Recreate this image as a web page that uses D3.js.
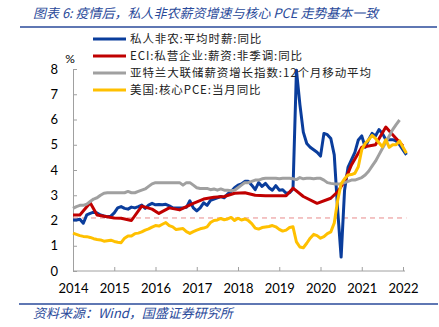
<!DOCTYPE html>
<html>
<head>
<meta charset="utf-8">
<script src="https://cdn.jsdelivr.net/npm/d3@7"></script>
<style>
  body { margin: 0; background: #fff; }
  svg { display: block; }
  .axis text { font-family: Lato, "Liberation Sans", sans-serif; font-size: 13px; fill: #000; }
  .axis path, .axis line { stroke: #a0a0a0; }
</style>
</head>
<body>
<div id="chart"></div>
<script>
// years on the x axis (month index 0 = 2014-01)
const years = ["2014", "2015", "2016", "2017", "2018", "2019", "2020", "2021", "2022"];
const yTicks = [0, 1, 2, 3, 4, 5, 6, 7, 8];

// 私人非农:平均时薪:同比 (monthly from month 0)
const blueValues = [2.02, 2.02, 2.05, 1.89, 2.22, 2.28, 2.33, 2.3, 2.22, 2.18, 2.15, 2.17,
  2.3, 2.5, 2.55, 2.48, 2.45, 2.53, 2.5, 2.55, 2.61, 2.48, 2.61, 2.68,
  2.62, 2.63, 2.62, 2.64, 2.58, 2.5, 2.5, 2.5, 2.5, 2.52, 2.78, 2.5,
  2.38, 2.5, 2.7, 2.6, 2.8, 2.85, 2.9, 2.95, 2.9, 3.05, 3.15, 3.3,
  3.4, 3.45, 3.55, 3.55, 3.4, 3.22, 3.5, 3.35, 3.47, 3.3, 3.2, 3.38,
  3.2, 3.22, 3.08, 3.1, 3.25, 7.95, 6.6, 5.5, 5.05, 4.9, 4.8, 4.7,
  4.55, 5.45, 5.4, 5.25, 4.6, 2.4, 0.55, 3.2, 4.1, 4.4, 4.7, 5.19,
  5.35, 4.9, 5.2, 5.45, 5.35, 5.6, 5.45, 5.2, 5.2, 5.2, 5.15, 5.0,
  4.8, 4.6];

// ECI:私营企业:薪资:非季调:同比 (month index, value)
const redMonths = [0, 2, 5, 7, 12, 14, 17, 20, 23, 25, 28, 31, 35, 38, 41, 44, 47, 50, 53, 56,
  59, 62, 64, 67, 71, 75, 77, 79, 81, 84, 88, 91, 93, 95, 96];
const redValues = [2.22, 2.22, 2.7, 2.22, 2.1, 2.09, 2.0, 2.57, 2.45, 2.28, 2.5, 2.42, 2.68, 2.85,
  2.92, 2.95, 3.08, 3.1, 3.0, 2.98, 2.98, 2.98, 3.28, 2.95, 2.68, 2.88, 3.14, 3.55, 4.2, 4.9,
  5.0, 5.7, 5.4, 5.1, 4.95];

// 亚特兰大联储薪资增长指数:12个月移动平均 (monthly from month 0)
const grayValues = [2.48, 2.55, 2.6, 2.6, 2.65, 2.75, 2.85, 2.9, 3.0, 3.08, 3.1, 3.1,
  3.1, 3.1, 3.1, 3.1, 3.15, 3.1, 3.1, 3.15, 3.2, 3.25, 3.35, 3.45,
  3.5, 3.5, 3.5, 3.5, 3.5, 3.5, 3.5, 3.5, 3.4, 3.5, 3.5, 3.4,
  3.3, 3.27, 3.27, 3.27, 3.22, 3.25, 3.2, 3.25, 3.2, 3.2, 3.18, 3.2,
  3.3, 3.4, 3.5, 3.5, 3.55, 3.6, 3.6, 3.65, 3.67, 3.67, 3.67, 3.67,
  3.65, 3.67, 3.67, 3.67, 3.65, 3.62, 3.7, 3.65, 3.67, 3.67, 3.65, 3.67,
  3.67, 3.6, 3.5, 3.47, 3.45, 3.45, 3.45, 3.5, 3.55, 3.6, 3.6, 3.65,
  3.7, 3.8, 3.95, 4.15, 4.35, 4.6, 4.85, 5.1, 5.35, 5.6, 5.8, 5.98];

// 美国:核心PCE:当月同比 (monthly from month 0)
const yellowValues = [1.5, 1.45, 1.4, 1.37, 1.36, 1.33, 1.28, 1.25, 1.23, 1.18, 1.2, 1.22,
  1.17, 1.14, 1.12, 1.3, 1.39, 1.39, 1.48, 1.5, 1.55, 1.62, 1.67, 1.74,
  1.8, 1.78, 1.85, 1.92, 1.8, 1.75, 1.64, 1.66, 1.68, 1.56, 1.49, 1.56,
  1.62, 1.67, 1.7, 1.75, 1.92, 2.0, 2.02, 2.08, 2.03, 2.06, 2.12, 2.0,
  2.09, 2.02, 2.06, 2.0, 1.88, 1.7, 1.66, 1.72, 1.74, 1.76, 1.8, 1.75,
  1.65, 1.58, 1.62, 1.72, 1.75, 1.15, 0.95, 0.92, 1.1, 1.3, 1.45, 1.4,
  1.3, 1.36, 1.48, 1.55, 1.9, 2.8, 3.45, 3.65, 3.8, 3.82, 3.87, 4.13,
  4.8, 5.05, 5.2, 5.37, 5.25, 5.08, 4.92, 5.2, 4.9, 5.0, 5.0, 5.15,
  4.9, 4.66];

const refLine = 2.1;

const legendNames = ["私人非农:平均时薪:同比", "ECI:私营企业:薪资:非季调:同比",
  "亚特兰大联储薪资增长指数:12个月移动平均", "美国:核心PCE:当月同比"];
const colors = ["#0a3d9c", "#c00000", "#a0a0a0", "#ffc000"];

const width = 439, height = 327;
const svg = d3.select("#chart").append("svg")
    .attr("width", width).attr("height", height);

let x = d3.scaleLinear().domain([0, 96]).range([73, 403]);
let y = d3.scaleLinear().domain([0, 8]).range([271, 69]);

// title (slanted like the reference)
svg.append("text")
    .attr("transform", "translate(33,18) skewX(-14)")
    .attr("font-family", "'Noto Sans CJK SC', sans-serif")
    .attr("font-size", 13)
    .attr("fill", "#2a4a9a")
    .text("图表 6:  疫情后，私人非农薪资增速与核心 PCE 走势基本一致");
svg.append("line").attr("x1", 20).attr("x2", 437).attr("y1", 27).attr("y2", 27)
    .attr("stroke", "#2a4a9a").attr("stroke-width", 1.5);

// source
svg.append("line").attr("x1", 19).attr("x2", 438).attr("y1", 304).attr("y2", 304)
    .attr("stroke", "#2a4a9a").attr("stroke-width", 1.5);
svg.append("text")
    .attr("transform", "translate(33,318) skewX(-14)")
    .attr("font-family", "'Noto Sans CJK SC', sans-serif")
    .attr("font-size", 13)
    .attr("fill", "#2a4a9a")
    .text("资料来源：Wind，国盛证券研究所");

// axes
svg.append("g").attr("class", "axis")
    .attr("transform", "translate(0,271)")
    .call(d3.axisBottom(x).tickValues(years.map((d, i) => i * 12))
        .tickFormat((d, i) => years[i]).tickSizeInner(-4).tickSizeOuter(0).tickPadding(13));
svg.select(".axis .domain").attr("d", "M73,0H405");

svg.append("g").attr("class", "axis")
    .attr("transform", "translate(73,0)")
    .call(d3.axisLeft(y).tickValues(yTicks).tickFormat(d3.format("d"))
        .tickSizeInner(-4).tickSizeOuter(0).tickPadding(15));

svg.append("text").attr("x", 70).attr("y", 63)
    .attr("text-anchor", "middle")
    .attr("font-family", "Lato, sans-serif").attr("font-size", 12)
    .text("%");

// dashed reference line
svg.append("line")
    .attr("x1", x(0)).attr("x2", x(97))
    .attr("y1", y(refLine)).attr("y2", y(refLine))
    .attr("stroke", "#e88a8a").attr("stroke-width", 1)
    .attr("stroke-dasharray", "5,4");

let line = d3.line().x(d => x(d[0])).y(d => y(d[1]));

let series = [
    blueValues.map((v, i) => [i, v]),
    redMonths.map((m, i) => [m, redValues[i]]),
    grayValues.map((v, i) => [i, v]),
    yellowValues.map((v, i) => [i, v])
];

series.forEach((s, i) => {
    svg.append("path")
        .datum(s)
        .attr("d", line)
        .attr("fill", "none")
        .attr("stroke", colors[i])
        .attr("stroke-width", 3)
        .attr("stroke-linejoin", "round");
});

// legend
let legend = svg.append("g");
legendNames.forEach((name, i) => {
    let ly = 39 + i * 17;
    legend.append("line")
        .attr("x1", 93).attr("x2", 126).attr("y1", ly).attr("y2", ly)
        .attr("stroke", colors[i]).attr("stroke-width", 3);
    legend.append("text")
        .attr("x", 130).attr("y", ly + 4)
        .attr("font-family", "'Noto Sans CJK SC', sans-serif")
        .attr("font-size", 11.5).attr("letter-spacing", 0.9).attr("fill", "#222")
        .text(name);
});
</script>
</body>
</html>
